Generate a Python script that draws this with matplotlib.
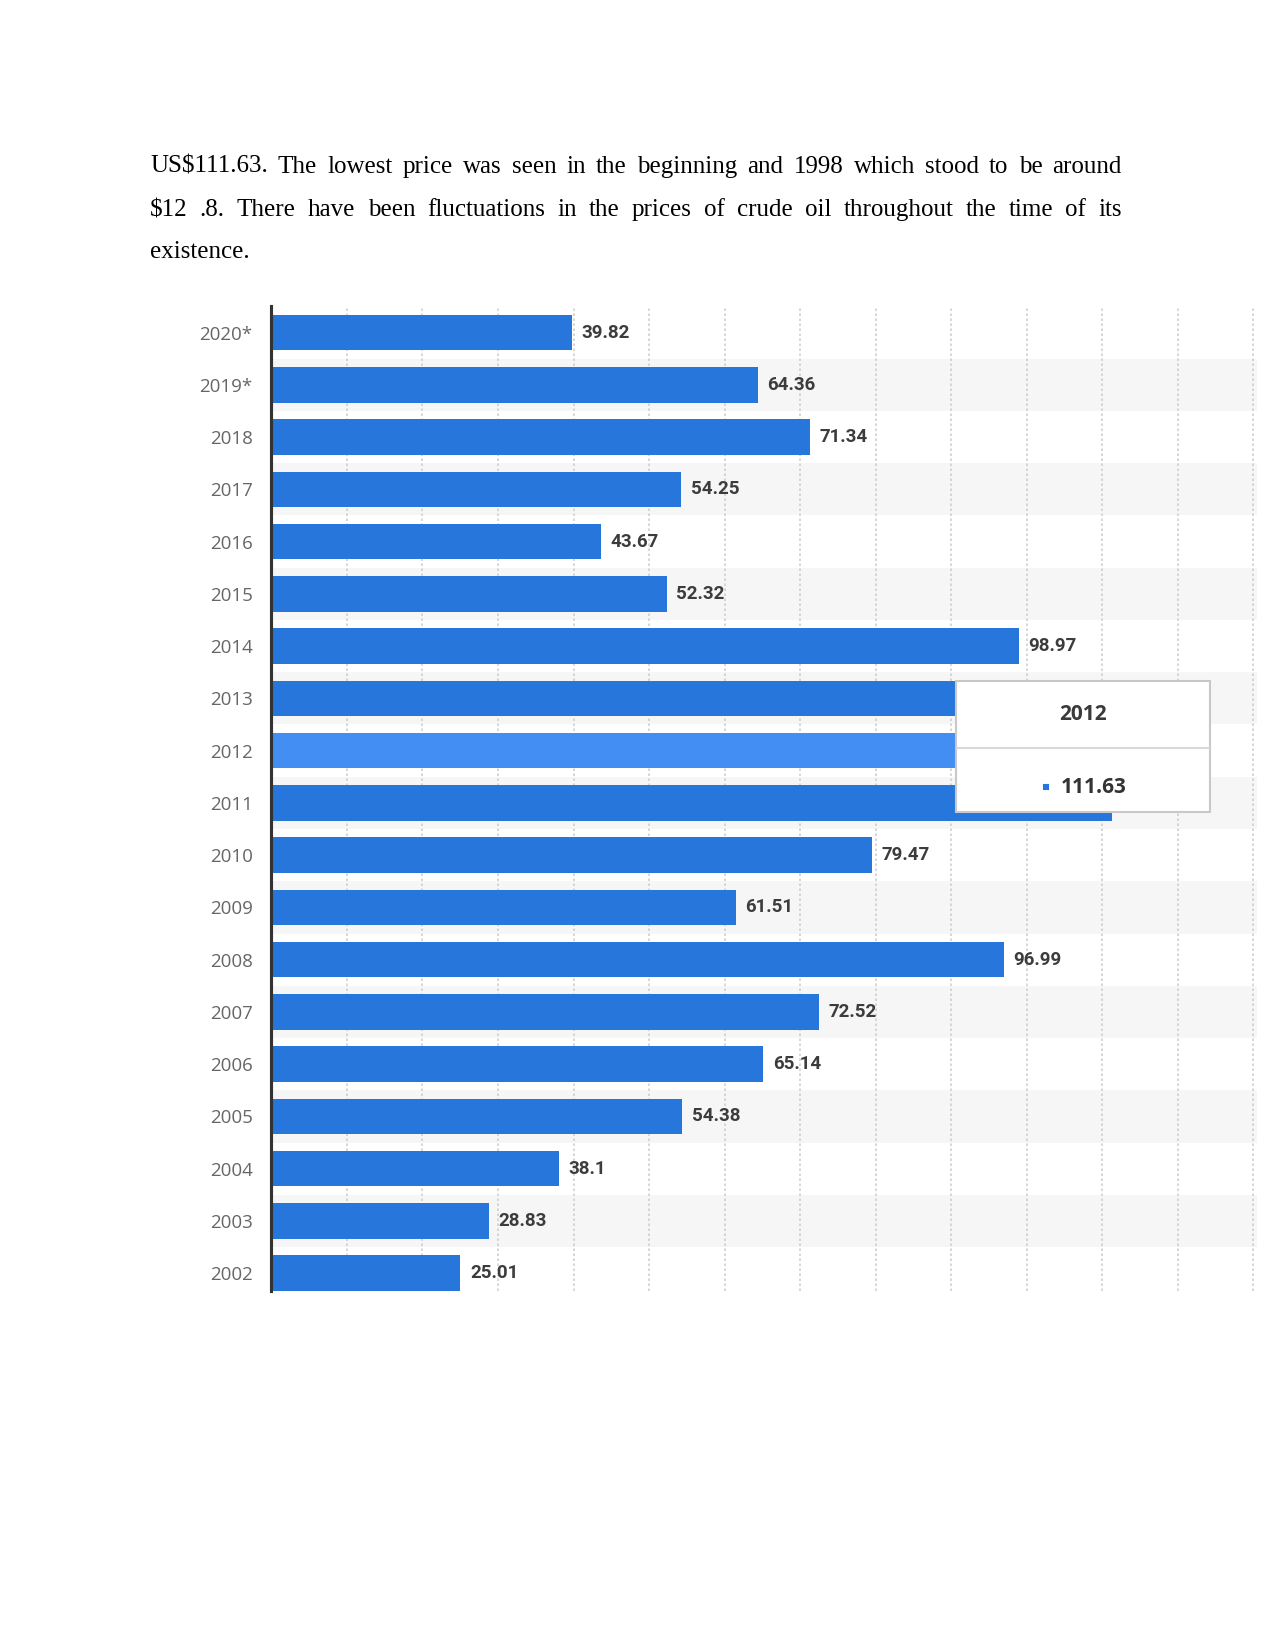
import matplotlib.pyplot as plt
from matplotlib.patches import Rectangle

# data
years = ['2020*', '2019*', '2018', '2017', '2016', '2015', '2014', '2013', '2012',
         '2011', '2010', '2009', '2008', '2007', '2006', '2005', '2004', '2003', '2002']
prices = [39.82, 64.36, 71.34, 54.25, 43.67, 52.32, 98.97, 108.56, 111.63,
          111.26, 79.47, 61.51, 96.99, 72.52, 65.14, 54.38, 38.1, 28.83, 25.01]
highlight = '2012'

line1 = "US$111.63. The lowest price was seen in the beginning and 1998 which stood to be around"
line2 = "$12 .8. There have been fluctuations in the prices of crude oil throughout the time of its"
line3 = "existence."

W, H = 1275, 1650
fig = plt.figure(figsize=(8.5, 11), dpi=150)
fig.patch.set_facecolor('white')

# ---- paragraph above the chart (justified) ----
def put_line(text, y_px, x0, x1, justify=True):
    r = fig.canvas.get_renderer()
    words = text.split(' ')
    items = [fig.text(0, 1 - y_px / H, w.replace('$', r'\$'), fontsize=12,
                      family='Liberation Serif', va='baseline', color='black')
             for w in words]
    widths = [t.get_window_extent(r).width for t in items]
    if justify and len(words) > 1:
        gap = (x1 - x0 - sum(widths)) / (len(words) - 1)
    else:
        gap = 6
    x = x0
    for t, w in zip(items, widths):
        t.set_x(x / W)
        x += w + gap

put_line(line1, 173, 150, 1122)
put_line(line2, 216, 150, 1122)
put_line(line3, 258, 150, 1122, justify=False)

# ---- bar chart ----
ax = fig.add_axes([0.2129, 0.2176, 0.773, 0.5969])
n = len(years)
ys = list(range(n))

for i in ys:
    if i % 2 == 1:
        ax.axhspan(i - 0.5, i + 0.5, color='#f6f6f6', zorder=0, lw=0)

for g in range(10, 131, 10):
    ax.axvline(g, color='#cfcfcf', lw=0.8, ls=(0, (1.5, 1.5)), zorder=1)

colors = ['#428ef2' if y == highlight else '#2676dc' for y in years]
ax.barh(ys, prices, height=0.68, color=colors, zorder=2)

for i, v in enumerate(prices):
    ax.annotate(f'{v:g}', (v, i), xytext=(4.6, 0), textcoords='offset points',
                va='center', ha='left', fontsize=9, fontweight='bold',
                family='Roboto', color='#3c3c3c', zorder=3)

ax.set_xlim(0, 130.5)
ax.set_ylim(18.34, -0.507)
ax.set_yticks(ys)
ax.set_yticklabels(years, fontsize=9, family='Open Sans', color='#666666')
ax.tick_params(axis='y', length=0, pad=9)
ax.set_xticks([])
for s in ['top', 'right', 'bottom']:
    ax.spines[s].set_visible(False)
ax.spines['left'].set_color('#333333')
ax.spines['left'].set_linewidth(1.5)
ax.spines['left'].set_zorder(4)

# ---- tooltip for the highlighted year ----
hi = years.index(highlight)
ax.add_patch(Rectangle((90.7, 6.67), 33.6, 2.51, facecolor='white',
                       edgecolor='#c8c8c8', lw=1.0, zorder=10))
ax.plot([90.8, 124.2], [7.95, 7.95], color='#d8d8d8', lw=1.0, zorder=11)
ax.text(107.5, 7.30, highlight, ha='center', va='center', fontsize=10,
        fontweight='bold', family='Open Sans', color='#3a3a3a', zorder=12)
ax.plot([102.6], [8.70], marker='s', ms=2.2, color='#2676dc', zorder=12)
ax.text(104.5, 8.70, f'{prices[hi]:.2f}', ha='left', va='center', fontsize=10,
        fontweight='bold', family='Open Sans', color='#333333', zorder=12)

fig.savefig('out.png', dpi=150)
